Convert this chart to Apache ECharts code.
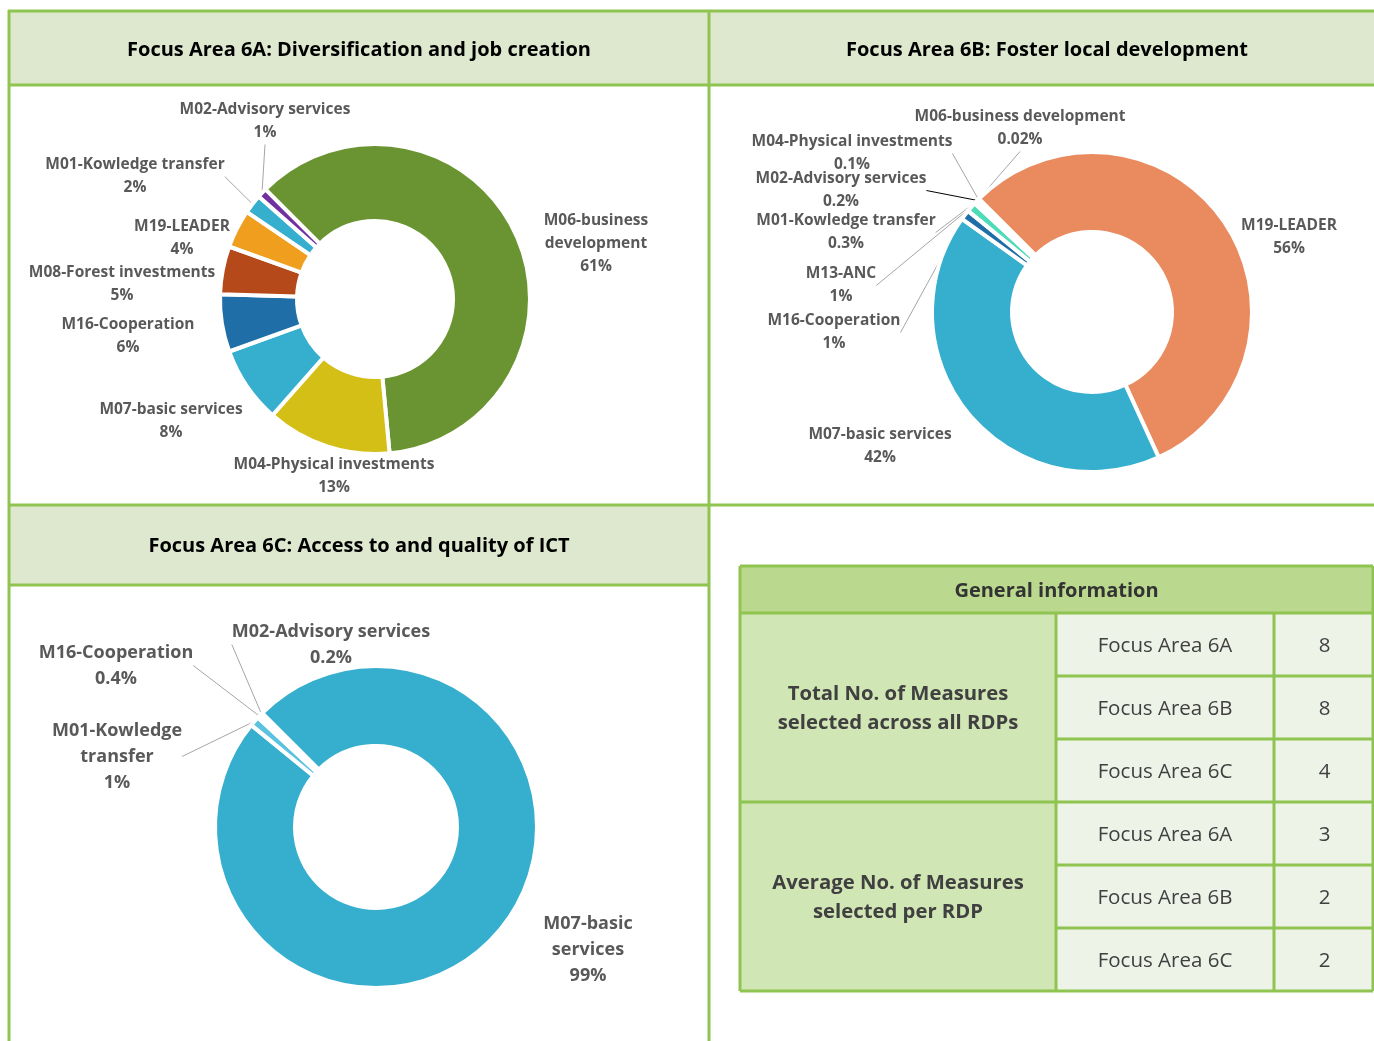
<!DOCTYPE html>
<html lang="en">
<head>
  <meta charset="UTF-8">
  <title>Focus Area 6 measures</title>
  <script src="https://cdn.jsdelivr.net/npm/echarts@6/dist/echarts.min.js"></script>
  <style>
    html, body { margin: 0; padding: 0; background: #fff; }
    #main { width: 1374px; height: 1041px; }
  </style>
</head>
<body>
  <div id="main"></div>
  <script>
    // panel titles
    var panelTitles = [
      'Focus Area 6A: Diversification and job creation',
      'Focus Area 6B: Foster local development',
      'Focus Area 6C: Access to and quality of ICT'
    ];

    // 6A (clockwise order, starting top-left)
    var names6A = ['M06-business\ndevelopment', 'M04-Physical investments', 'M07-basic services', 'M16-Cooperation',
      'M08-Forest investments', 'M19-LEADER', 'M01-Kowledge transfer', 'M02-Advisory services'];
    var values6A = [61, 13, 8, 6, 5, 4, 2, 1];

    // 6B
    var names6B = ['M19-LEADER', 'M07-basic services', 'M16-Cooperation', 'M13-ANC', 'M01-Kowledge transfer',
      'M02-Advisory services', 'M04-Physical investments', 'M06-business development'];
    var values6B = [56, 42, 1, 1, 0.3, 0.2, 0.1, 0.02];

    // 6C
    var names6C = ['M07-basic\nservices', 'M01-Kowledge\ntransfer', 'M16-Cooperation', 'M02-Advisory services'];
    var values6C = [99, 1, 0.4, 0.2];

    // table
    var tableTitle = 'General information';
    var groupLabels = ['Total No. of Measures\nselected across all RDPs', 'Average No. of Measures\nselected per RDP'];
    var focusAreas = ['Focus Area 6A', 'Focus Area 6B', 'Focus Area 6C'];
    var totalMeasures = [8, 8, 4];
    var avgMeasures = [3, 2, 2];

    var FONT = '"Open Sans", Lato, sans-serif';
    var GREEN = '#8fc450';
    var LINE = '#a6a6a6';

    var colors6A = ['#6a9431', '#d4bf17', '#36aecd', '#1f6ea8', '#b5491a', '#f09e1e', '#36aecd', '#7030a0'];
    var colors6B = ['#e98a5f', '#36aecd', '#1f6ea8', '#4ddbb8', '#36aecd', '#36aecd', '#36aecd', '#36aecd'];
    var colors6C = ['#36aecd', '#5bc3e0', '#36aecd', '#36aecd'];

    // label centres (px) and which ones get a leader line
    var pos6A = [[596, 242], [334, 475], [171, 420], [128, 335], [122, 283], [182, 237], [135, 175], [265, 120]];
    var line6A = [false, false, false, false, false, false, true, true];
    var pos6B = [[1289, 236], [880, 445], [834, 331], [841, 284], [846, 231], [841, 189], [852, 152], [1020, 127]];
    var line6B = [false, false, true, true, true, '#000', true, true];
    var pos6C = [[588, 948], [117, 755], [116, 664], [331, 643]];
    var line6C = [false, true, true, true];

    function pieSeries(names, values, colors, center, radius, pos, lines, fs, lh) {
      return {
        type: 'pie',
        center: center,
        radius: radius,
        startAngle: 135,
        clockwise: true,
        avoidLabelOverlap: false,
        silent: true,
        itemStyle: { borderColor: '#fff', borderWidth: 4 },
        label: {
          show: true, position: 'outside', formatter: '{b}\n{c}%',
          color: '#595959', fontFamily: FONT, fontWeight: 'bold', fontSize: fs, lineHeight: lh, align: 'center'
        },
        labelLine: { show: true, length: 8, length2: 0, lineStyle: { color: LINE, width: 1 } },
        labelLayout: function (p) {
          var a = pos[p.dataIndex];
          return { x: a[0], y: a[1] + 1.5, align: 'center', verticalAlign: 'middle' };
        },
        data: names.map(function (n, i) {
          var l = lines[i];
          return {
            name: n, value: values[i], itemStyle: { color: colors[i] },
            labelLine: { show: !!l, lineStyle: { color: typeof l === 'string' ? l : LINE } }
          };
        })
      };
    }

    var g = [];
    function rect(x, y, w, h, fill) {
      g.push({ type: 'rect', silent: true, z: 1, shape: { x: x, y: y, width: w, height: h }, style: { fill: fill } });
    }
    function line(x1, y1, x2, y2) {
      g.push({ type: 'line', silent: true, z: 5, shape: { x1: x1, y1: y1, x2: x2, y2: y2 }, style: { stroke: GREEN, lineWidth: 3 } });
    }
    function text(x, y, t, fs, fw, color, lh) {
      g.push({
        type: 'text', silent: true, z: 6, x: x, y: y,
        style: { text: t, fill: color, fontFamily: FONT, fontSize: fs, fontWeight: fw, lineHeight: lh || fs * 1.4, align: 'center', verticalAlign: 'middle' }
      });
    }

    // panel frames and headers
    rect(9, 11, 700, 74, '#dde8cf');
    rect(709, 11, 670, 74, '#dde8cf');
    rect(9, 505, 700, 80, '#dde8cf');
    line(8, 11, 1380, 11);
    line(8, 85, 1380, 85);
    line(8, 505, 1380, 505);
    line(8, 585, 709, 585);
    line(9, 10, 9, 1045);
    line(709, 10, 709, 1045);
    text(359, 50, panelTitles[0], 20, 'bold', '#000');
    text(1047, 50, panelTitles[1], 20, 'bold', '#000');
    text(359, 546, panelTitles[2], 20, 'bold', '#000');

    // general information table
    var tx0 = 740, tx1 = 1056, tx2 = 1274, tx3 = 1373, ty0 = 566, ty1 = 613, rh = 63;
    rect(tx0, ty0, tx3 - tx0, ty1 - ty0, '#bad98f');
    rect(tx0, ty1, tx1 - tx0, rh * 6, '#d1e6b5');
    rect(tx1, ty1, tx3 - tx1, rh * 6, '#eef3e8');
    text((tx0 + tx3) / 2, (ty0 + ty1) / 2 + 2, tableTitle, 20, 'bold', '#333');
    var vals = totalMeasures.concat(avgMeasures);
    for (var i = 0; i < 6; i++) {
      var cy = ty1 + rh * i + rh / 2 + 1.5;
      text((tx1 + tx2) / 2, cy, focusAreas[i % 3], 20.5, 'normal', '#404040');
      text((tx2 + tx3) / 2 + 1, cy, String(vals[i]), 20.5, 'normal', '#404040');
    }
    for (var k = 0; k < 2; k++) {
      text((tx0 + tx1) / 2, ty1 + rh * 3 * k + rh * 1.5 + 1, groupLabels[k], 20.3, 'bold', '#404040', 29);
    }
    line(tx0, ty0, tx3, ty0);
    line(tx0, ty1, tx3, ty1);
    for (var r = 1; r <= 6; r++) {
      line(r % 3 === 0 ? tx0 : tx1, ty1 + rh * r, tx3, ty1 + rh * r);
    }
    line(tx0, ty0, tx0, ty1 + rh * 6);
    line(tx1, ty1, tx1, ty1 + rh * 6);
    line(tx2, ty1, tx2, ty1 + rh * 6);
    line(tx3, ty0, tx3, ty1 + rh * 6);

    var chart = echarts.init(document.getElementById('main'));
    chart.setOption({
      animation: false,
      backgroundColor: '#fff',
      graphic: { elements: g },
      series: [
        pieSeries(names6A, values6A, colors6A, [375, 299], [78, 155], pos6A, line6A, 15.5, 23),
        pieSeries(names6B, values6B, colors6B, [1092, 312], [80, 160], pos6B, line6B, 15.5, 23),
        pieSeries(names6C, values6C, colors6C, [376, 827], [81, 161], pos6C, line6C, 18, 26)
      ]
    });
  </script>
</body>
</html>
